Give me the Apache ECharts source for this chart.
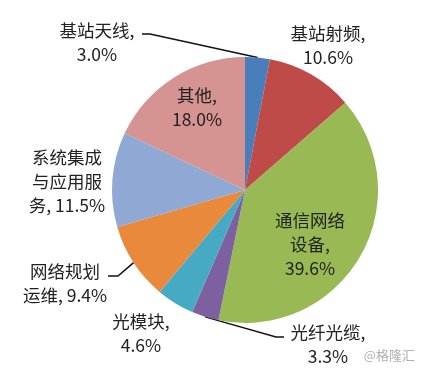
<!DOCTYPE html>
<html><head><meta charset="utf-8">
<script src="https://cdn.jsdelivr.net/npm/echarts@6/dist/echarts.min.js"></script>
<style>html,body{margin:0;padding:0;background:#fff}#c{width:424px;height:371px}</style>
</head><body><div id="c"></div>
<script>
const categories = ['基站天线','基站射频','通信网络设备','光纤光缆','光模块','网络规划运维','系统集成与应用服务','其他'];
const values = [3.0, 10.6, 39.6, 3.3, 4.6, 9.4, 11.5, 18.0];
const labelTemplates = ['基站天线,\n{v}','基站射频,\n{v}','通信网络\n设备,\n{v}','光纤光缆,\n{v}','光模块,\n{v}','网络规划\n运维, {v}','系统集成\n与应用服\n务, {v}','其他,\n{v}'];
const colors = ['#4a7ebb','#be4b48','#98b954','#7d60a0','#46aac5','#e8893c','#8fa9d4','#d59391'];
const showLine = [true,false,false,true,false,true,false,false];
// label block centres and leader-line elbows
const labelPos = [[97,42],[328,45],[310,244],[328,344],[141,333],[65,283],[67,181],[197,107]];
const linePts = {0:[[150,34],[142,34]], 3:[[276,337],[284,337]], 5:[[118,276],[108,276]]};

const chart = echarts.init(document.getElementById('c'), null, {renderer:'canvas'});
chart.setOption({
  animation:false,
  title:{text:'@格隆汇', right:4, bottom:4, textStyle:{fontSize:13, fontWeight:'normal', color:'#b0b0b0', fontFamily:'Noto Sans CJK SC'}},
  series:[{
    type:'pie', center:[245,190], radius:133, startAngle:90, clockwise:true,
    data: categories.map((n,i)=>({name:n, value:values[i], itemStyle:{color:colors[i]},
      labelLine:{show:showLine[i], lineStyle:{color:'#111', width:1.5}}})),
    label:{show:true, position:'outside', color:'#222', fontSize:17.5, lineHeight:24,
      fontFamily:'Noto Sans CJK SC', align:'center', overflow:'none', width:200,
      formatter:p=>labelTemplates[p.dataIndex].replace('{v}', values[p.dataIndex].toFixed(1)+'%')},
    labelLine:{show:true, length:10, length2:10},
    labelLayout:function(p){
      const i=p.dataIndex; const o={x:labelPos[i][0], y:labelPos[i][1], align:'center', verticalAlign:'middle'};
      if(linePts[i] && p.labelLinePoints){ o.labelLinePoints=[p.labelLinePoints[0], linePts[i][0], linePts[i][1]]; }
      return o;
    }
  }]
});
</script></body></html>
